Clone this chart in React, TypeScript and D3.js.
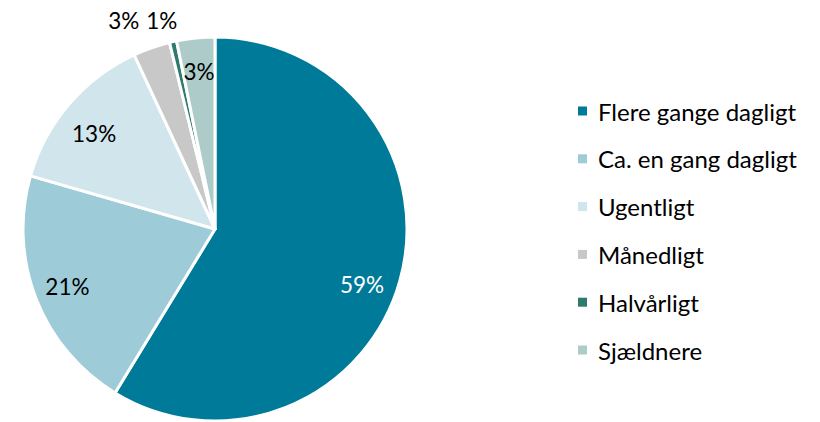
import React from "react";
import * as d3 from "d3";

const categories = ["Flere gange dagligt", "Ca. en gang dagligt", "Ugentligt", "Månedligt", "Halvårligt", "Sjældnere"];
const values = [58.6, 20.7, 13.6, 3.1, 0.6, 3.2];
const labels = ["59%", "21%", "13%", "3%", "1%", "3%"];
const colors = ["#007A99", "#9ECBD8", "#D0E5EC", "#C8C8C8", "#2E7B6E", "#ADCCC9"];

const W = 820, H = 422;
const cx = 215, cy = 229, R = 192;
const FONT = "Lato, 'Open Sans', sans-serif";

export default function App() {
  const pie = d3.pie<number>().sort(null).value((d) => d);
  const arcs = pie(values);
  const arc = d3.arc<d3.PieArcDatum<number>>().innerRadius(0).outerRadius(R);
  // label placement tweaks (best-fit style): radius and angle offset
  const place: Record<number, { r: number; da: number }> = {
    0: { r: 157, da: 0.085 },
    2: { r: 154, da: -0.04 },
    3: { r: 228, da: -0.075 },
    4: { r: 215, da: -0.03 },
  };
  const legendY = d3.scalePoint<string>().domain(categories).range([111, 350]);

  return (
    <svg width={W} height={H} style={{ position: "absolute", left: 0, top: 0 }} fontFamily={FONT}>
      <g transform={`translate(${cx},${cy})`}>
        {arcs.map((a, i) => (
          <path key={i} d={arc(a) || ""} fill={colors[i]} stroke="#fff" strokeWidth={3} strokeLinejoin="round" />
        ))}
        {arcs.map((a, i) => {
          const mid = (a.startAngle + a.endAngle) / 2;
          const o = place[i];
          const r = o ? o.r : R * 0.825;
          const ang = mid + (o ? o.da : 0);
          const x = Math.sin(ang) * r;
          const y = -Math.cos(ang) * r;
          return (
            <text key={i} x={x} y={y} textAnchor="middle" dominantBaseline="central" fontSize={22.5}
              fill={i === 0 ? "#fff" : "#000"}>
              {labels[i]}
            </text>
          );
        })}
      </g>
      <g>
        {categories.map((c, i) => {
          const y = legendY(c) as number;
          return (
            <g key={c}>
              <rect x={578} y={y - 4.5} width={9} height={9} fill={colors[i]} />
              <text x={598} y={y} dominantBaseline="central" fontSize={24} fill="#000">{c}</text>
            </g>
          );
        })}
      </g>
    </svg>
  );
}
